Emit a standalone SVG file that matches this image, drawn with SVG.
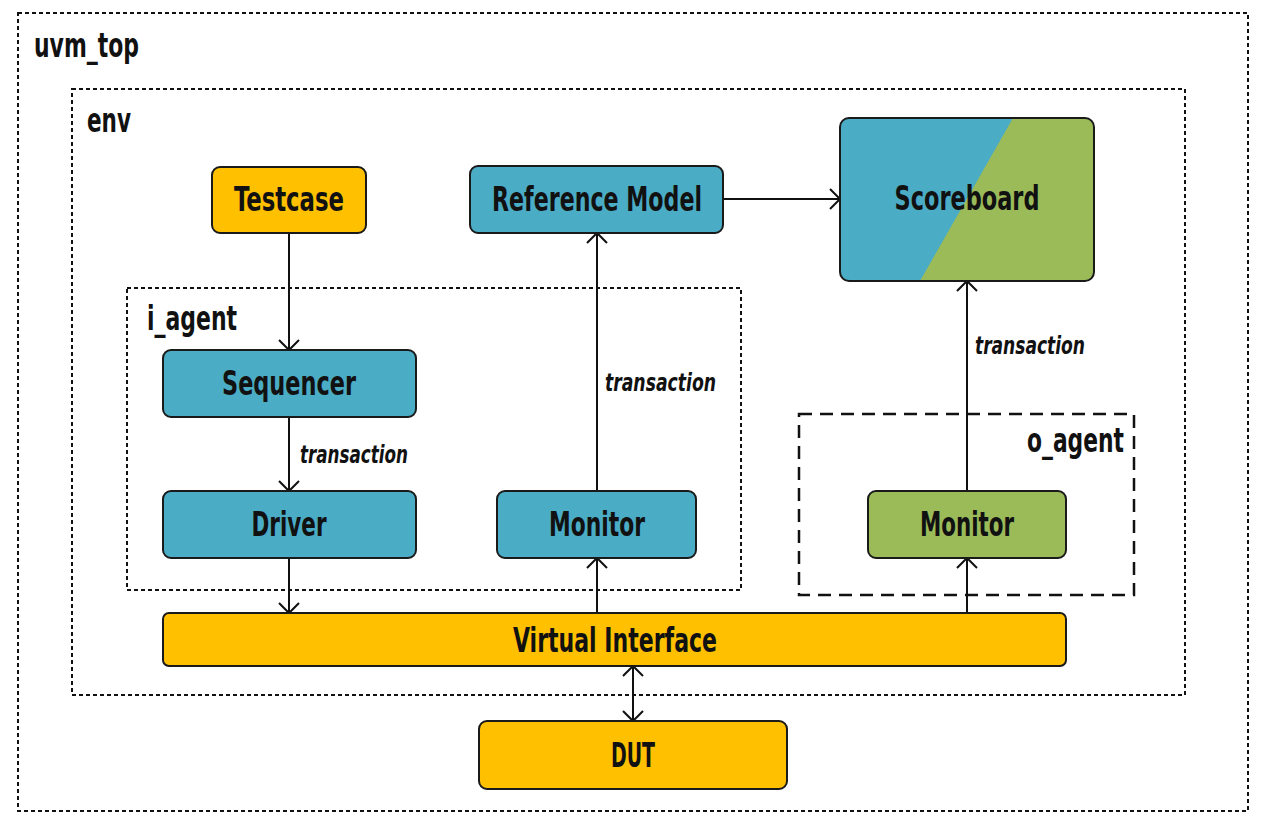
<svg xmlns="http://www.w3.org/2000/svg" width="1261" height="823" viewBox="0 0 1261 823">
<style>
.frame{fill:none;stroke:#111;stroke-width:2;stroke-dasharray:4 3}
.oframe{fill:none;stroke:#111;stroke-width:2.5;stroke-dasharray:13 8}
.box{stroke:#1a1a1a;stroke-width:2}
.blue{fill:#4BACC6}
.yellow{fill:#FFC000}
.green{fill:#9BBB59}
.t{font-family:"DejaVu Sans Condensed","DejaVu Sans",sans-serif;font-stretch:condensed;font-weight:bold;font-size:33px;fill:#111}
.c{text-anchor:middle}
.lbl{font-family:"DejaVu Sans Condensed","DejaVu Sans",sans-serif;font-stretch:condensed;font-weight:bold;font-style:italic;font-size:24px;fill:#111}
.conn{fill:none;stroke:#111;stroke-width:2}
</style>
<defs>
<marker id="arr" markerUnits="userSpaceOnUse" markerWidth="24" markerHeight="24" viewBox="-12 -12 24 24" refX="0" refY="0" orient="auto-start-reverse">
<path d="M-10,-10 L0,0 L-10,10" fill="none" stroke="#111" stroke-width="2"/>
</marker>
<clipPath id="sbclip"><rect x="840" y="118" width="254" height="163" rx="9"/></clipPath>
</defs>
<rect width="1261" height="823" fill="#fff"/>
<g id="uvm_top">
<rect class="frame" x="18" y="13" width="1230" height="798"/>
<text class="t" x="34" y="57" textLength="105" lengthAdjust="spacingAndGlyphs">uvm_top</text>
</g>
<g id="env">
<rect class="frame" x="72" y="89" width="1113" height="606"/>
<text class="t" x="87" y="132" textLength="44" lengthAdjust="spacingAndGlyphs">env</text>
</g>
<g id="i_agent">
<rect class="frame" x="127" y="288" width="614" height="302"/>
<text class="t" x="147" y="330" textLength="90" lengthAdjust="spacingAndGlyphs">i_agent</text>
</g>
<g id="o_agent">
<rect class="oframe" x="799" y="414" width="335" height="181"/>
<text class="t" x="1027" y="452" textLength="97" lengthAdjust="spacingAndGlyphs">o_agent</text>
</g>
<g id="connectors">
<line class="conn" x1="289" y1="233" x2="289" y2="350" marker-end="url(#arr)"/>
<line class="conn" x1="289" y1="417" x2="289" y2="491" marker-end="url(#arr)"/>
<line class="conn" x1="289" y1="558" x2="289" y2="613" marker-end="url(#arr)"/>
<line class="conn" x1="597" y1="613" x2="597" y2="558" marker-end="url(#arr)"/>
<line class="conn" x1="597" y1="491" x2="597" y2="233" marker-end="url(#arr)"/>
<line class="conn" x1="723" y1="199" x2="840" y2="199" marker-end="url(#arr)"/>
<line class="conn" x1="967" y1="613" x2="967" y2="558" marker-end="url(#arr)"/>
<line class="conn" x1="967" y1="491" x2="967" y2="281" marker-end="url(#arr)"/>
<line class="conn" x1="633" y1="666" x2="633" y2="721" marker-start="url(#arr)" marker-end="url(#arr)"/>
<text class="lbl" x="300" y="463" textLength="108" lengthAdjust="spacingAndGlyphs">transaction</text>
<text class="lbl" x="605" y="391" textLength="111" lengthAdjust="spacingAndGlyphs">transaction</text>
<text class="lbl" x="975" y="354" textLength="110" lengthAdjust="spacingAndGlyphs">transaction</text>
</g>
<g id="testcase">
<rect class="box yellow" x="212" y="167" width="154" height="66" rx="8"/>
<text class="t c" x="289" y="211" textLength="110" lengthAdjust="spacingAndGlyphs">Testcase</text>
</g>
<g id="reference_model">
<rect class="box blue" x="470" y="166" width="253" height="67" rx="8"/>
<text class="t c" x="597" y="211" textLength="210" lengthAdjust="spacingAndGlyphs">Reference Model</text>
</g>
<g id="scoreboard">
<g clip-path="url(#sbclip)">
<rect class="blue" x="840" y="118" width="254" height="163"/>
<polygon class="green" points="1013,118 1094,118 1094,281 920,281"/>
</g>
<rect x="840" y="118" width="254" height="163" rx="9" fill="none" stroke="#1a1a1a" stroke-width="2"/>
<text class="t c" x="967" y="210" textLength="145" lengthAdjust="spacingAndGlyphs">Scoreboard</text>
</g>
<g id="sequencer">
<rect class="box blue" x="163" y="350" width="253" height="67" rx="8"/>
<text class="t c" x="289" y="395" textLength="134" lengthAdjust="spacingAndGlyphs">Sequencer</text>
</g>
<g id="driver">
<rect class="box blue" x="163" y="491" width="253" height="67" rx="8"/>
<text class="t c" x="289" y="536" textLength="75" lengthAdjust="spacingAndGlyphs">Driver</text>
</g>
<g id="i_monitor">
<rect class="box blue" x="497" y="491" width="199" height="67" rx="8"/>
<text class="t c" x="597" y="536" textLength="96" lengthAdjust="spacingAndGlyphs">Monitor</text>
</g>
<g id="o_monitor">
<rect class="box green" x="868" y="491" width="198" height="67" rx="8"/>
<text class="t c" x="967" y="536" textLength="94" lengthAdjust="spacingAndGlyphs">Monitor</text>
</g>
<g id="virtual_interface">
<rect class="box yellow" x="163" y="613" width="903" height="53" rx="6"/>
<text class="t c" x="615" y="652" textLength="204" lengthAdjust="spacingAndGlyphs">Virtual Interface</text>
</g>
<g id="dut">
<rect class="box yellow" x="479" y="721" width="308" height="68" rx="8"/>
<text class="t c" x="633" y="767" textLength="44" lengthAdjust="spacingAndGlyphs">DUT</text>
</g>
</svg>
